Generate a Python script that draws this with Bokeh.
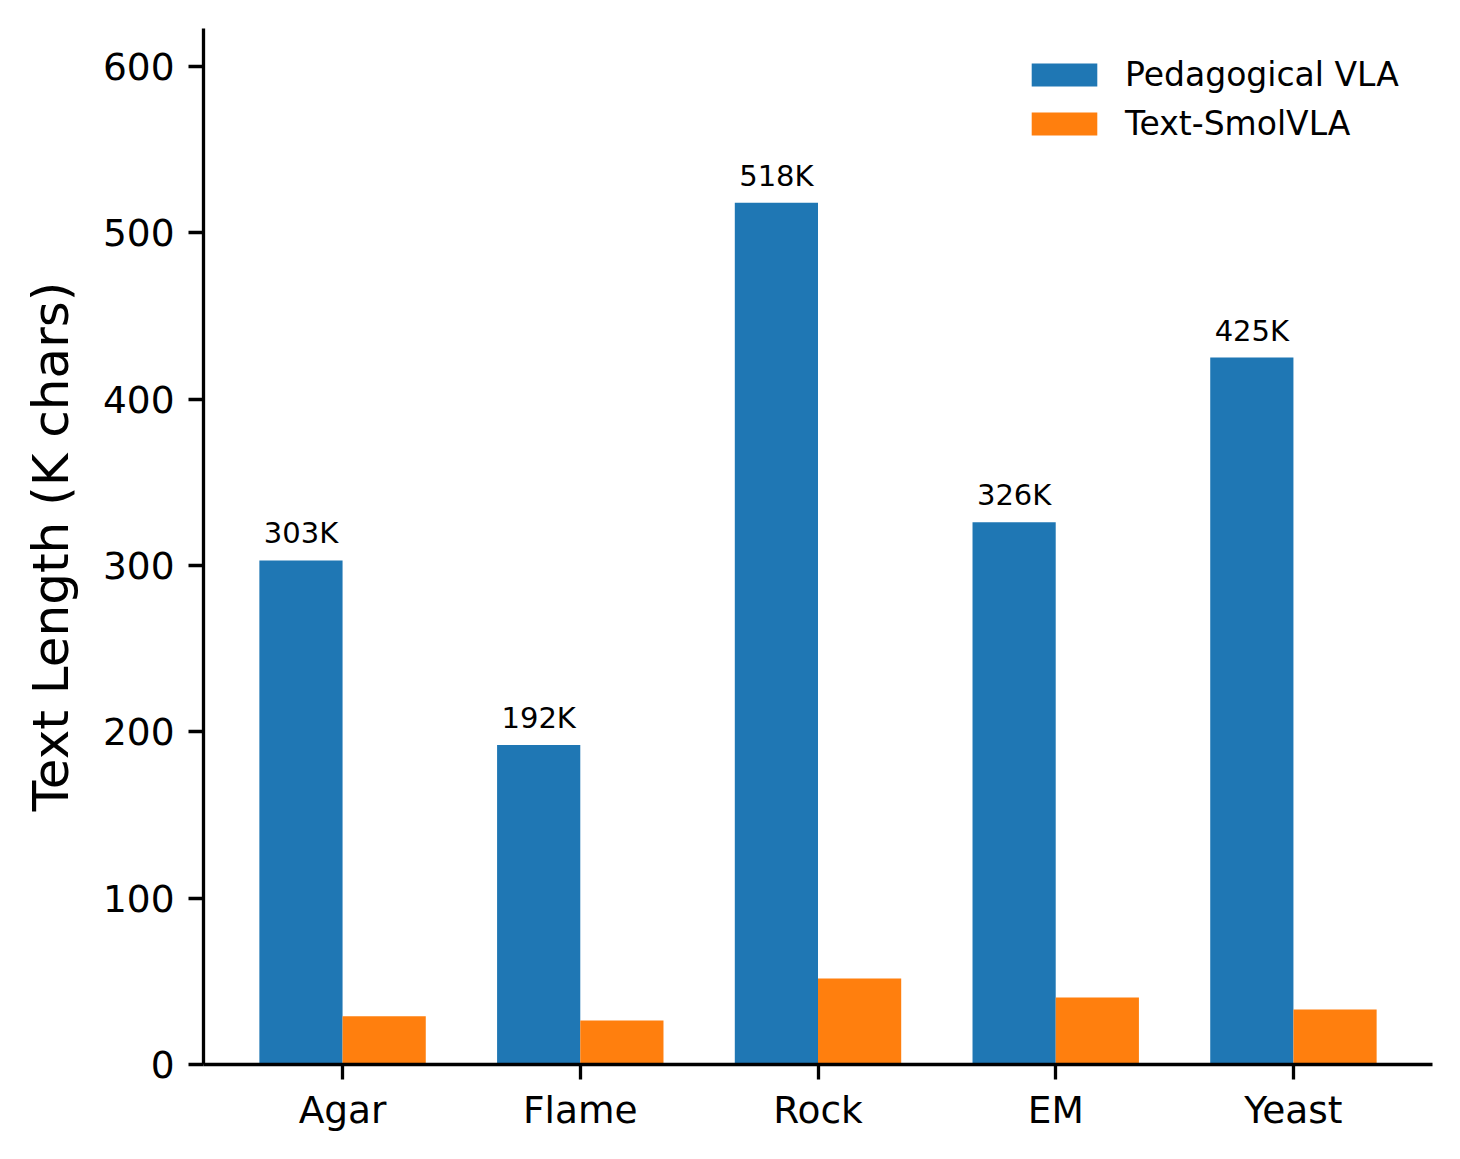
from bokeh.plotting import figure
from bokeh.models import Range1d, FixedTicker, ColumnDataSource, Legend, LegendItem
from bokeh.embed import file_html
from bokeh.resources import INLINE
from bokeh.core.properties import value
import numpy as np

categories = ["Agar", "Flame", "Rock", "EM", "Yeast"]
pedagogical = [303, 192, 518, 326, 425]
smolvla = [29, 26.5, 51.7, 40.3, 33.1]
yticks = [0, 100, 200, 300, 400, 500, 600]
series_names = ["Pedagogical VLA", "Text-SmolVLA"]

FONT = "DejaVu Sans"
BLUE = "#1f77b4"
ORANGE = "#ff7f0e"
W = 0.35

idx = np.arange(len(categories))
src = ColumnDataSource(dict(
    xp=idx - W / 2, xs=idx + W / 2,
    ped=pedagogical, smol=smolvla,
    lbl=[f"{v}K" for v in pedagogical],
))

p = figure(width=1444, height=1143, output_backend="svg", toolbar_location=None,
           x_range=Range1d(-0.585, len(categories) - 1 + 0.585),
           y_range=Range1d(0, 622.8),
           min_border_left=203, min_border_top=28, min_border_right=12, min_border_bottom=79)
p.outline_line_color = None
p.xgrid.grid_line_color = None
p.ygrid.grid_line_color = None

r1 = p.vbar(x="xp", top="ped", width=W, source=src, fill_color=BLUE, line_color=None)
r2 = p.vbar(x="xs", top="smol", width=W, source=src, fill_color=ORANGE, line_color=None)

p.text(x="xp", y="ped", text="lbl", source=src, text_align="center", text_baseline="alphabetic",
       y_offset=-27, text_font=value(FONT), text_font_size="29px", text_color="black")

for ax in (p.xaxis[0], p.yaxis[0]):
    ax.axis_line_width = 3.3
    ax.axis_line_color = "black"
    ax.major_tick_line_width = 3.3
    ax.major_tick_line_color = "black"
    ax.major_tick_out = 15
    ax.major_tick_in = 0
    ax.minor_tick_line_color = None
    ax.major_label_text_font = FONT
    ax.major_label_text_font_size = "37.5px"
    ax.major_label_text_color = "black"
    ax.major_label_standoff = 14

p.xaxis.major_label_standoff = 8
p.xaxis.ticker = FixedTicker(ticks=list(idx))
p.xaxis.major_label_overrides = {int(i): c for i, c in zip(idx, categories)}
p.yaxis.ticker = FixedTicker(ticks=yticks)
p.yaxis.axis_label = "Text Length (K chars)"
p.yaxis.axis_label_text_font = FONT
p.yaxis.axis_label_text_font_size = "50px"
p.yaxis.axis_label_text_font_style = "normal"
p.yaxis.axis_label_text_color = "black"
p.yaxis.axis_label_standoff = 20

legend = Legend(items=[LegendItem(label=series_names[0], renderers=[r1]),
                       LegendItem(label=series_names[1], renderers=[r2])],
                location=(820, 921), margin=0, padding=12, spacing=10,
                glyph_width=82, glyph_height=29, label_height=29, label_standoff=20,
                label_text_font=FONT, label_text_font_size="33px", label_text_color="black",
                border_line_color=None, background_fill_alpha=0)
p.add_layout(legend)

open("out.html", "w").write(file_html(p, INLINE))
